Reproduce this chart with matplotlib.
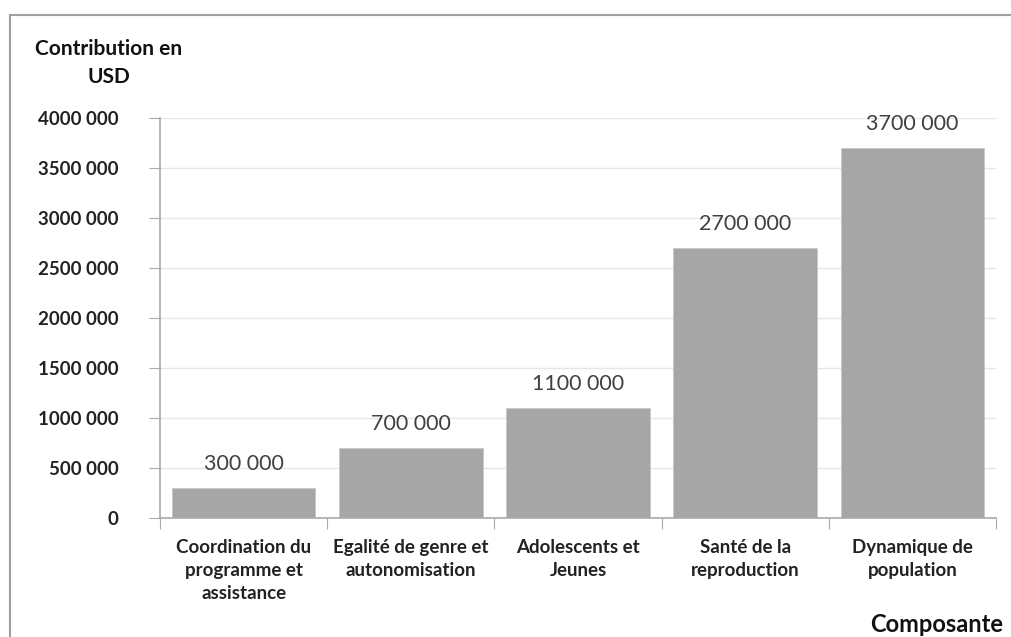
import matplotlib
matplotlib.use("Agg")
import matplotlib.pyplot as plt
from matplotlib.lines import Line2D
import numpy as np

plt.rcParams["font.family"] = ["Lato", "DejaVu Sans"]

categories = [
    "Coordination du\nprogramme et\nassistance",
    "Egalité de genre et\nautonomisation",
    "Adolescents et\nJeunes",
    "Santé de la\nreproduction",
    "Dynamique de\npopulation",
]
values = [300000, 700000, 1100000, 2700000, 3700000]
value_labels = ["300 000", "700 000", "1100 000", "2700 000", "3700 000"]
yticks = [0, 500000, 1000000, 1500000, 2000000, 2500000, 3000000, 3500000, 4000000]
ytick_labels = ["0", "500 000", "1000 000", "1500 000", "2000 000",
                "2500 000", "3000 000", "3500 000", "4000 000"]

fig = plt.figure(figsize=(10.12, 6.37), dpi=100)
ax = fig.add_axes([160 / 1012, 1 - 518 / 637, 836 / 1012, 400 / 637])

x = np.arange(len(categories))
ax.bar(x, values, width=0.86, color="#a6a6a6", edgecolor="#c8c8c8",
       linewidth=0.6, zorder=2)

for xi, v, lab in zip(x, values, value_labels):
    ax.text(xi, v + 145000, lab, ha="center", va="bottom",
            fontsize=15.5, color="#404040")

ax.set_xlim(-0.5, len(categories) - 0.5)
ax.set_ylim(0, 4000000)
ax.set_yticks(yticks)
ax.set_yticklabels(ytick_labels, fontsize=13.5, fontweight="bold", color="#222222")
ax.yaxis.grid(True, color="#e6e6e6", linewidth=1, zorder=0)
ax.set_axisbelow(True)

# category boundary ticks on the x axis
ax.set_xticks(np.arange(-0.5, len(categories), 1.0))
ax.set_xticklabels([])
ax.set_xticks(x, minor=True)
ax.set_xticklabels(categories, minor=True, fontsize=13.5, fontweight="bold",
                   color="#222222", linespacing=1.45)
ax.tick_params(axis="x", which="minor", length=0, pad=15)
ax.tick_params(axis="x", which="major", length=8, color="#aaaaaa", direction="out")
ax.tick_params(axis="y", length=8, color="#aaaaaa", direction="out", pad=22)

for side in ["top", "right"]:
    ax.spines[side].set_visible(False)
for side in ["left", "bottom"]:
    ax.spines[side].set_color("#aaaaaa")
    ax.spines[side].set_linewidth(1.2)

fig.text(109 / 1012, 1 - 63 / 637, "Contribution en\nUSD", ha="center",
         va="center", fontsize=15, fontweight="bold", color="#111111",
         linespacing=1.5)
fig.text(1003 / 1012, 1 - 624 / 637, "Composante", ha="right", va="center",
         fontsize=17, fontweight="bold", color="#111111")

# outer frame
fig.add_artist(Line2D([10 / 1012, 1.0], [1 - 15 / 637, 1 - 15 / 637],
                      color="#a0a0a0", linewidth=1.5))
fig.add_artist(Line2D([10 / 1012, 10 / 1012], [0, 1 - 15 / 637],
                      color="#a0a0a0", linewidth=1.5))

fig.savefig("out.png", dpi=100)
